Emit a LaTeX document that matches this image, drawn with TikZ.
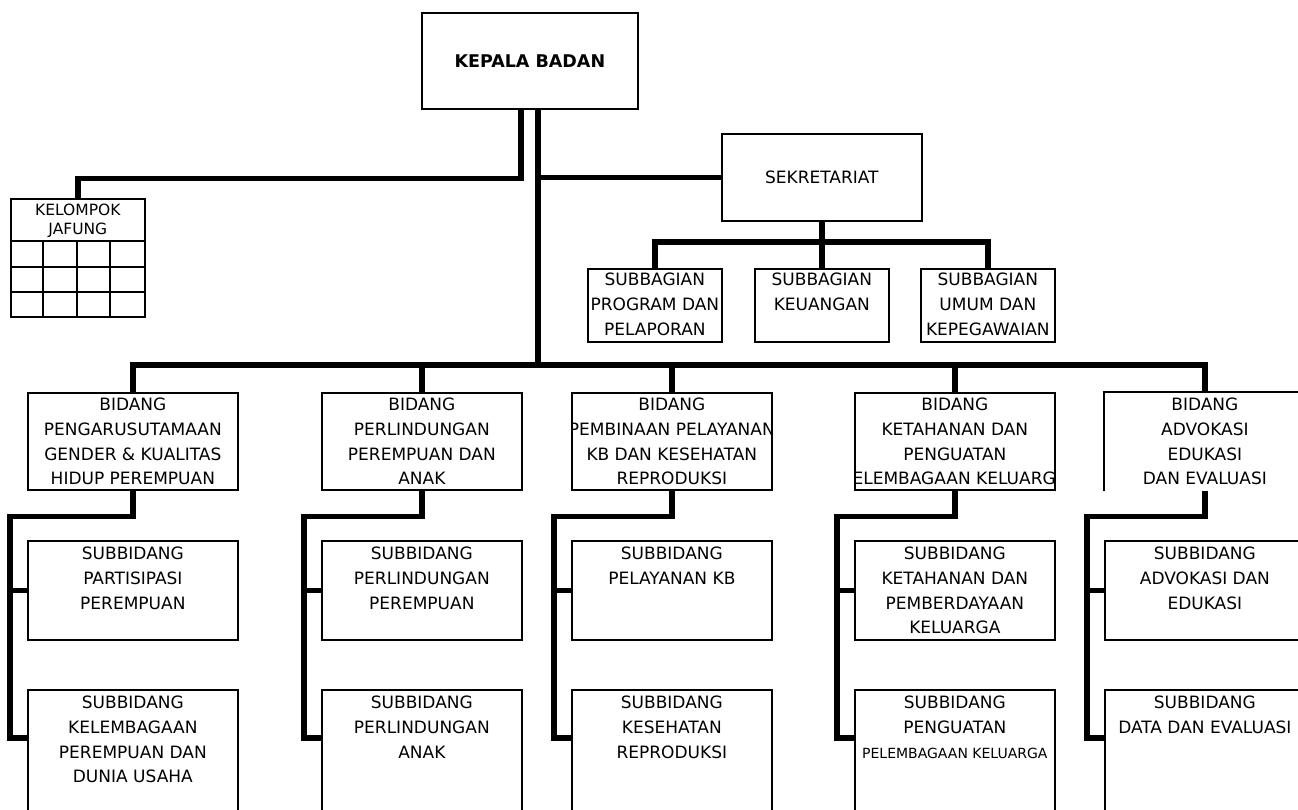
\documentclass[tikz,border=0pt]{standalone}
\usepackage{fontspec}
\setmainfont{DejaVu Sans}
\usetikzlibrary{
	calc,
	positioning,
}
\newcommand\orgfont{\fontsize{17}{24.6}\selectfont}
\newcommand\jffont{\fontsize{15.5}{19}\selectfont}
\tikzset{box/.style={draw,rectangle,line width=1.7pt,anchor=north west,inner sep=0pt,minimum width=200pt,}}
\tikzset{boxtext/.style={anchor=north,align=center,inner sep=0pt,font=\orgfont,}}
\tikzset{conn/.style={line width=5.5pt}}
\tikzset{gridline/.style={line width=1.7pt}}

\begin{document}
\begin{tikzpicture}[x=1pt,y=-1pt]

\useasboundingbox (0,0) rectangle (1298,809);
\clip (0,0) rectangle (1298,809);
\fill[white] (0,0) rectangle (1298,809);

% pimpinan
\node[box,minimum width=216pt,minimum height=96pt,font=\fontsize{17.5}{20}\selectfont\bfseries] (kepala) at (421,12) {KEPALA BADAN};
\node[box,minimum height=87pt,font=\orgfont] (sekre) at (721,133) {SEKRETARIAT};

% kelompok jabatan fungsional
\node[box,minimum width=134pt,minimum height=118pt] (jafung) at (10,198) {};
\node[boxtext,font=\jffont,yshift=-6pt] (jafungt) at (jafung.north) {KELOMPOK\\JAFUNG};
\foreach \y in {241,267,292}{
	\draw[gridline] (10,\y) -- (144,\y);
}
\foreach \x in {43,77,110}{
	\draw[gridline] (\x,241) -- (\x,316);
}

% subbagian
\foreach \n/\x/\txt in {1/587/{SUBBAGIAN\\PROGRAM DAN\\PELAPORAN},2/754/{SUBBAGIAN\\KEUANGAN},3/920/{SUBBAGIAN\\UMUM DAN\\KEPEGAWAIAN}}{
	\node[box,minimum width=134pt,minimum height=73pt] (sbag\n) at (\x,268) {};
	\node[boxtext,yshift=-5pt] (sbagt\n) at (sbag\n.north) {\txt};
}

% bidang
\foreach \n/\x/\w/\txt in {1/27/210/{BIDANG\\PENGARUSUTAMAAN\\GENDER \& KUALITAS\\HIDUP PEREMPUAN},2/321/200/{BIDANG\\PERLINDUNGAN\\PEREMPUAN DAN\\ANAK},3/571/200/{BIDANG\\PEMBINAAN PELAYANAN\\KB DAN KESEHATAN\\REPRODUKSI},4/854/200/{BIDANG\\KETAHANAN DAN\\PENGUATAN\\PELEMBAGAAN KELUARGA}}{
	\node[box,minimum width=\w pt,minimum height=97pt] (bid\n) at (\x,392) {};
	\begin{scope}
	\clip (bid\n.north west) rectangle (bid\n.south east);
	\node[boxtext,yshift=-6pt] (bidt\n) at (bid\n.north) {\txt};
	\end{scope}
}
\node[box,draw=none,minimum height=97pt] (bid5) at (1104,392) {};
\draw[gridline] (bid5.south west) -- (bid5.north west) -- (bid5.north east);
\node[boxtext,yshift=-6pt] (bidt5) at (bid5.north) {BIDANG\\ADVOKASI\\EDUKASI\\DAN EVALUASI};

% subbidang
\foreach \n/\x/\w/\ta/\tb in {
	1/27/210/{SUBBIDANG\\PARTISIPASI\\PEREMPUAN}/{SUBBIDANG\\KELEMBAGAAN\\PEREMPUAN DAN\\DUNIA USAHA},
	2/321/200/{SUBBIDANG\\PERLINDUNGAN\\PEREMPUAN}/{SUBBIDANG\\PERLINDUNGAN\\ANAK},
	3/571/200/{SUBBIDANG\\PELAYANAN KB}/{SUBBIDANG\\KESEHATAN\\REPRODUKSI},
	4/854/200/{SUBBIDANG\\KETAHANAN DAN\\PEMBERDAYAAN\\KELUARGA}/{SUBBIDANG\\PENGUATAN\\{\fontsize{14}{24.6}\selectfont PELEMBAGAAN KELUARGA}},
	5/1104/200/{SUBBIDANG\\ADVOKASI DAN\\EDUKASI}/{SUBBIDANG\\DATA DAN EVALUASI}}{
	\node[box,minimum width=\w pt,minimum height=99pt] (suba\n) at (\x,540) {};
	\node[boxtext,yshift=-7pt] (subat\n) at (suba\n.north) {\ta};
	\node[box,minimum width=\w pt,minimum height=160pt] (subb\n) at (\x,689) {};
	\node[boxtext,yshift=-7pt] (subbt\n) at (subb\n.north) {\tb};
	\draw[conn] (bid\n.south) -- ++(0,26) -| ($(subb\n.north west)+(-17,49)$) -- ($(subb\n.north west)+(0,49)$);
	\draw[conn] (suba\n.west) -- ++(-17,0);
}

% garis komando
\coordinate (trunk) at ([xshift=8pt]kepala.south);
\coordinate (bus) at (0,365);
\coordinate (sbus) at (0,242);
\draw[conn] ([xshift=-9pt]kepala.south) -- ++(0,69) -| (jafung.north);
\draw[conn] (trunk) -- (trunk |- bus);
\draw[conn] (trunk |- sekre.west) -- (sekre.west);
\draw[conn] (bid1.north) -- (bid1.north |- bus) -- (bid5.north |- bus) -- (bid5.north);
\foreach \n in {2,3,4}{
	\draw[conn] (bid\n.north) -- (bid\n.north |- bus);
}
\draw[conn] (sekre.south) -- (sekre.south |- sbus);
\draw[conn] (sbag1.north) -- (sbag1.north |- sbus) -- (sbag3.north |- sbus) -- (sbag3.north);
\draw[conn] (sbag2.north) -- (sbag2.north |- sbus);

\end{tikzpicture}
\end{document}
